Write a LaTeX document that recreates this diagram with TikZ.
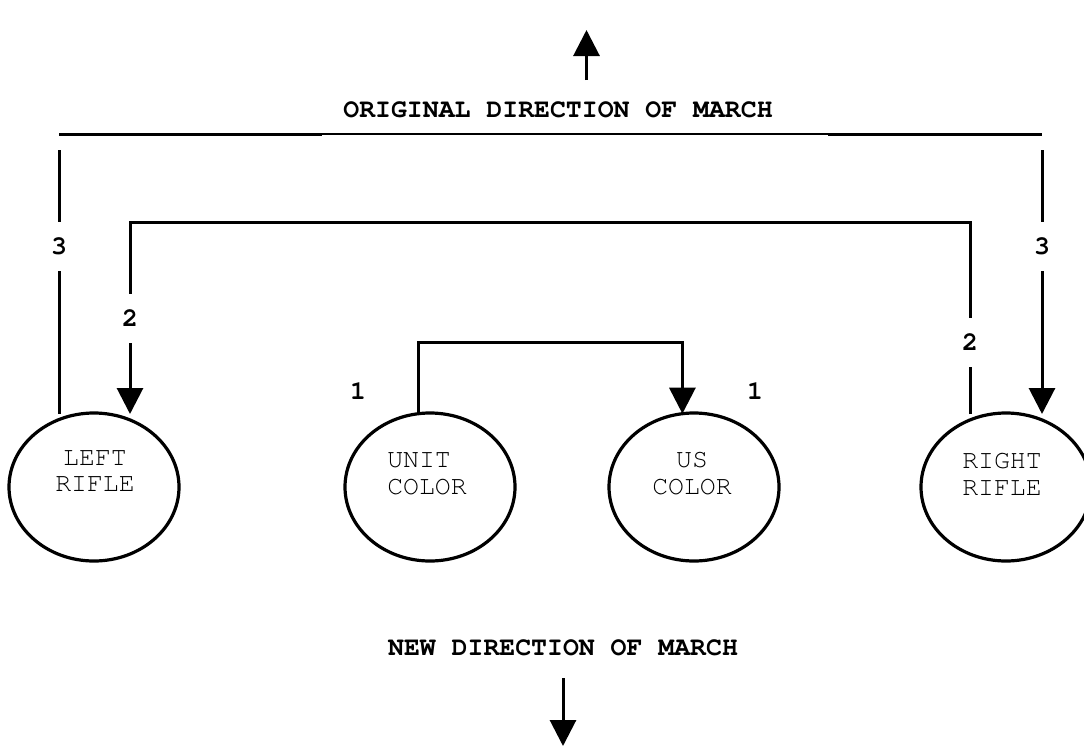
\documentclass[tikz,border=0pt]{standalone}
\usepackage{fontspec}
\setmonofont{TeX Gyre Cursor}
\usetikzlibrary{shapes.geometric,arrows.meta}
\tikzset{
  ln/.style={line width=3pt},
  thinln/.style={line width=1.3pt},
  arr/.style={line width=3pt,-{Triangle[length=26pt,width=26pt]}},
  oval/.style={ellipse,draw,line width=3.2pt,minimum width=170pt,minimum height=148pt,inner sep=0pt,outer sep=0pt},
  otext/.style={font=\ttfamily\fontsize{26.5}{27}\selectfont,inner sep=0pt},
  bold/.style={font=\ttfamily\bfseries\fontsize{26.5}{27}\selectfont,inner sep=0pt},
  num/.style={font=\ttfamily\bfseries\fontsize{26.5}{27}\selectfont,fill=white,inner sep=0pt,minimum height=49pt,minimum width=20pt}
}
\begin{document}
\begin{tikzpicture}[x=1pt,y=-1pt]
\useasboundingbox (0,0) rectangle (1084,747);
% ovals
\node[oval] (LR) at (94,487) {};
\node[oval] (UC) at (430,487) {};
\node[oval] (USC) at (694,487) {};
\node[oval] (RR) at (1006,487) {};
% oval texts
\node[otext,align=center] (LRt) at (95,471) {LEFT\\[-1pt]RIFLE};
\node[otext,align=left] (UCt) at (427,474) {UNIT\\COLOR};
\node[otext,align=center] (USt) at (692,474) {US\\COLOR};
\node[otext,align=center] (RRt) at (1002,474) {RIGHT\\RIFLE};
% top arrow and line
\coordinate (upS) at (586.5,80);
\coordinate (upT) at (586.5,30);
\draw[arr] (upS) -- (upT);
\node[bold] (orig) at (558,110) {ORIGINAL DIRECTION OF MARCH};
\coordinate (hl1) at (59,134);
\coordinate (hl2) at (322,134);
\coordinate (hl3) at (828,134);
\coordinate (hl4) at (1042,134);
\draw[ln] (hl1) -- (hl2);
\draw[thinln] (hl2) -- (hl3);
\draw[ln] (hl3) -- (hl4);
% 3 lines
\coordinate (l3s) at (59,150);
\coordinate (l3e) at (59,414);
\draw[ln] (l3s) -- (l3e);
\coordinate (r3s) at (1042,150);
\coordinate (r3e) at (1042,414);
\draw[arr] (r3s) -- (r3e);
% 2 bracket
\coordinate (r2e) at (970,414);
\coordinate (l2top) at (130,222);
\coordinate (l2e) at (130,414);
\draw[arr] (r2e) |- (l2top) -- (l2e);
% 1 bracket
\draw[arr] (UC.99) -- ++(0,-71) -| (USC.99);
% number labels
\node[num] (n3l) at (59,246.5) {3};
\node[num] (n3r) at (1042,246.5) {3};
\node[num] (n2l) at (130,318.5) {2};
\node[num] (n2r) at (970,342) {2};
\node[bold] (n1l) at (358,391) {1};
\node[bold] (n1r) at (755,391) {1};
% new direction
\node[bold] (newd) at (563,648) {NEW DIRECTION OF MARCH};
\coordinate (dnS) at (563,678);
\coordinate (dnT) at (563,746);
\draw[arr] (dnS) -- (dnT);
\end{tikzpicture}
\end{document}
